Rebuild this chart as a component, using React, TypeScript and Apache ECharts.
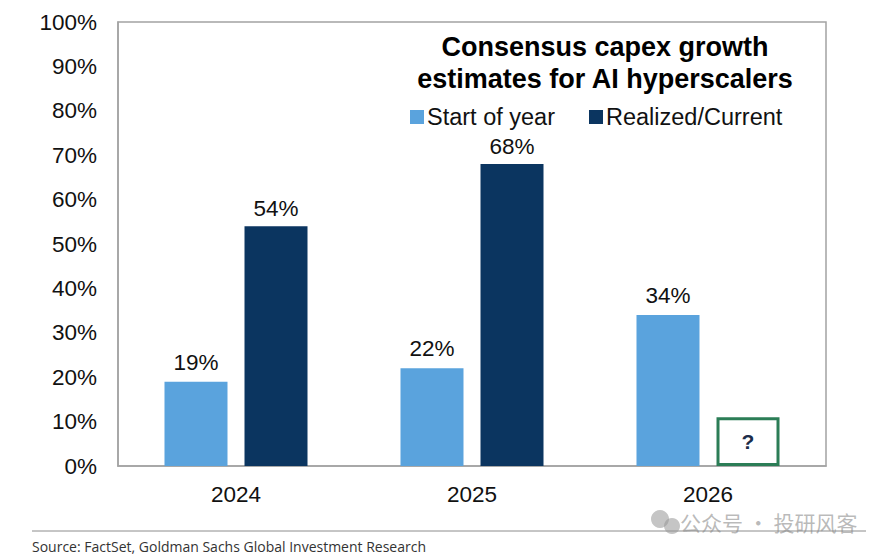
import React, { useEffect, useRef } from "react";
import * as echarts from "echarts";

const categories = ["2024", "2025", "2026"];
const startOfYear = [19, 22, 34];
const realizedCurrent: (number | null)[] = [54, 68, null];
const pendingBoxLevel = 11; // height of the "?" placeholder box for 2026
const seriesNames = ["Start of year", "Realized/Current"];
const titleLines = ["Consensus capex growth", "estimates for AI hyperscalers"];
const sourceText = "Source: FactSet, Goldman Sachs Global Investment Research";
const watermarkText = "公众号 · 投研风客";

const LIGHT = "#5aa3dd";
const DARK = "#0b3560";
const FONT = "'Liberation Sans', Arial, sans-serif";

export default function App() {
  const ref = useRef<HTMLDivElement>(null);
  useEffect(() => {
    if (!ref.current) return;
    const chart = echarts.init(ref.current, null, { renderer: "svg" });
    const darkData = realizedCurrent.map((v) =>
      v === null
        ? {
            value: pendingBoxLevel,
            itemStyle: { color: "#ffffff", borderColor: "#2b7d56", borderWidth: 3 },
            label: {
              show: true,
              position: "inside",
              formatter: "?",
              fontWeight: "bold",
              fontSize: 21,
              color: "#1c2d4a",
            },
          }
        : v
    );
    chart.setOption({
      animation: false,
      backgroundColor: "#ffffff",
      textStyle: { fontFamily: FONT },
      grid: {
        left: 118,
        top: 22,
        width: 708,
        height: 444,
        show: true,
        borderColor: "#a3a3a3",
        borderWidth: 1.5,
        containLabel: false,
      },
      legend: {
        left: 405,
        top: 100,
        icon: "rect",
        itemWidth: 14,
        itemHeight: 14,
        itemGap: 34,
        textStyle: { fontSize: 23.5, color: "#111", fontFamily: FONT, padding: [0, 0, 0, -2] },
        data: seriesNames,
      },
      xAxis: {
        type: "category",
        data: categories,
        axisLine: { lineStyle: { color: "#a3a3a3", width: 1.5 } },
        axisTick: { show: false },
        axisLabel: { fontSize: 22.5, color: "#111", margin: 17, fontFamily: FONT },
      },
      yAxis: {
        type: "value",
        min: 0,
        max: 100,
        interval: 10,
        axisLine: { show: true, lineStyle: { color: "#a3a3a3", width: 1.5 } },
        axisTick: { show: false },
        splitLine: { show: false },
        axisLabel: {
          formatter: "{value}%",
          fontSize: 22.5,
          color: "#111",
          margin: 21,
          fontFamily: FONT,
        },
      },
      series: [
        {
          name: seriesNames[0],
          type: "bar",
          data: startOfYear,
          barWidth: 63,
          barGap: "27%",
          itemStyle: { color: LIGHT },
          label: {
            show: true,
            position: "top",
            distance: 8,
            formatter: "{c}%",
            fontSize: 22.5,
            color: "#111",
            fontFamily: FONT,
          },
        },
        {
          name: seriesNames[1],
          type: "bar",
          data: darkData,
          barWidth: 63,
          barGap: "27%",
          itemStyle: { color: DARK },
          label: {
            show: true,
            position: "top",
            distance: 6,
            formatter: "{c}%",
            fontSize: 22.5,
            color: "#111",
            fontFamily: FONT,
          },
        },
      ],
      graphic: [
        {
          type: "text",
          x: 605,
          y: 31,
          style: {
            text: titleLines.join("\n"),
            textAlign: "center",
            textVerticalAlign: "top",
            font: `bold 27px ${FONT}`,
            lineHeight: 32,
            fill: "#000",
          },
        },
        {
          type: "line",
          shape: { x1: 32, y1: 531, x2: 866, y2: 531 },
          style: { stroke: "#8c8c8c", lineWidth: 1 },
        },
        {
          type: "text",
          x: 32,
          y: 539,
          style: {
            text: sourceText,
            font: "14px 'Open Sans', sans-serif",
            fill: "#333",
            textVerticalAlign: "top",
          },
        },
        {
          type: "circle",
          shape: { cx: 660, cy: 519, r: 9 },
          style: { fill: "rgba(150,150,150,0.55)" },
        },
        {
          type: "circle",
          shape: { cx: 672, cy: 526, r: 8 },
          style: { fill: "rgba(150,150,150,0.55)" },
        },
        {
          type: "text",
          x: 680,
          y: 511,
          style: {
            text: watermarkText,
            font: "21px 'Noto Sans CJK SC', sans-serif",
            fill: "rgba(140,140,140,0.6)",
            textVerticalAlign: "top",
          },
        },
      ],
    });
    return () => chart.dispose();
  }, []);
  return (
    <div
      ref={ref}
      style={{ position: "fixed", left: 0, top: 0, width: 893, height: 560, background: "#fff" }}
    />
  );
}
